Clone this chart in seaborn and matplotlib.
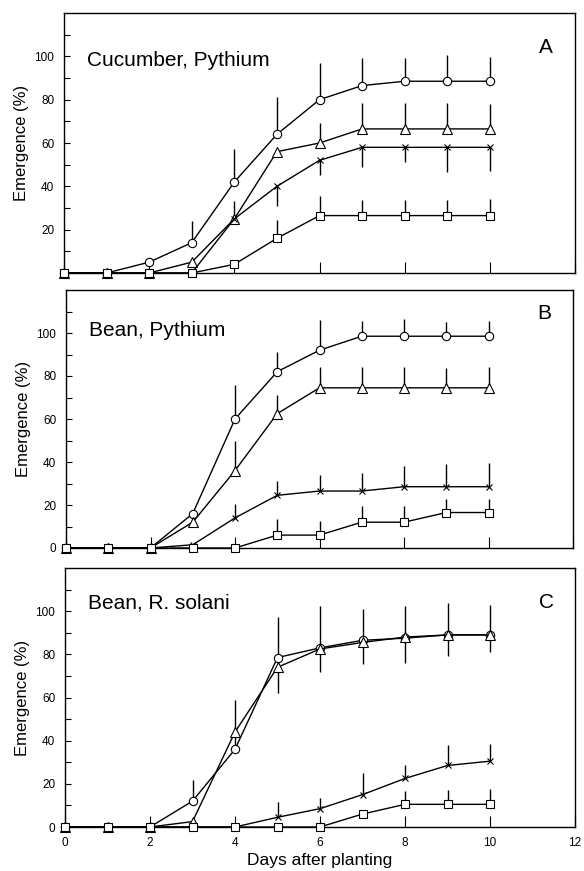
import numpy as np
import pandas as pd
import matplotlib
matplotlib.use("Agg")
import matplotlib.pyplot as plt
import seaborn as sns

days = [0, 1, 2, 3, 4, 5, 6, 7, 8, 9, 10]
series_names = ["circle", "triangle", "cross", "square"]
marker_map = {"circle": "o", "triangle": "^", "cross": "x", "square": "s"}
marker_size = {"circle": 6, "triangle": 6.5, "cross": 4.5, "square": 5.5}

# Panel A: Cucumber, Pythium
A_circle = [0, 0, 5, 14, 42, 64, 80, 86.5, 88.5, 88.5, 88.5]
A_triangle = [0, 0, 0, 5, 25, 56, 60, 66.5, 66.5, 66.5, 66.5]
A_cross = [0, 0, 0, 0, 25, 40, 52, 58, 58, 58, 58]
A_square = [0, 0, 0, 0, 4, 16, 26.5, 26.5, 26.5, 26.5, 26.5]
A_circle_err = [0, 0, 0, 10, 15, 17, 17, 12.5, 10.5, 12, 11]
A_triangle_err = [0, 0, 0, 0, 8, 0, 9, 12, 12, 12, 11.5]
A_cross_err = [0, 0, 0, 0, 0, 9, 7, 9, 7, 11.5, 11]
A_square_err = [0, 0, 0, 0, 0, 8.5, 9, 7, 7, 7, 7.5]
A_err_dir = [1, 1, -1, 1]

# Panel B: Bean, Pythium
B_circle = [0, 0, 0, 16, 60, 82, 92, 98.5, 98.5, 98.5, 98.5]
B_triangle = [0, 0, 0, 12, 36, 62.5, 74.5, 74.5, 74.5, 74.5, 74.5]
B_cross = [0, 0, 0, 1.5, 14, 24.5, 26.5, 26.5, 28.5, 28.5, 28.5]
B_square = [0, 0, 0, 0, 0, 6, 6, 12, 12, 16.5, 16.5]
B_circle_err = [0, 0, 0, 0, 16, 9, 14, 7, 8, 6.5, 7]
B_triangle_err = [0, 0, 0, 0, 14, 8.5, 9.5, 9.5, 9.5, 9, 9.5]
B_cross_err = [0, 0, 0, 0, 6.5, 6.5, 7.5, 8.5, 9.5, 10.5, 11]
B_square_err = [0, 0, 0, 0, 0, 7.5, 6.5, 7.5, 7.5, 6.5, 6.5]
B_err_dir = [1, 1, 1, 1]

# Panel C: Bean, R. solani
C_circle = [0, 0, 0, 12, 36, 78.5, 83, 86.5, 87.5, 89, 89]
C_triangle = [0, 0, 0, 2.5, 44, 74, 82.5, 85.5, 88, 89, 89]
C_cross = [0, 0, 0, 0, 0, 4.5, 8.5, 15, 22.5, 28.5, 30.5]
C_square = [0, 0, 0, 0, 0, 0, 0, 6, 10.5, 10.5, 10.5]
C_circle_err = [0, 0, 0, 10, 23, 19, 19.5, 14.5, 15, 15, 14]
C_triangle_err = [0, 0, 0, 0, 0, 12, 10.5, 10, 12, 10, 8]
C_cross_err = [0, 0, 0, 0, 0, 7, 5, 10, 6, 9.5, 8]
C_square_err = [0, 0, 0, 0, 0, 0, 0, 0, 6, 6.5, 7]
C_err_dir = [1, -1, 1, 1]

panels = [
    ("Cucumber, Pythium", "A", [A_circle, A_triangle, A_cross, A_square],
     [A_circle_err, A_triangle_err, A_cross_err, A_square_err], A_err_dir, 98, 104),
    ("Bean, Pythium", "B", [B_circle, B_triangle, B_cross, B_square],
     [B_circle_err, B_triangle_err, B_cross_err, B_square_err], B_err_dir, 101, 109),
    ("Bean, R. solani", "C", [C_circle, C_triangle, C_cross, C_square],
     [C_circle_err, C_triangle_err, C_cross_err, C_square_err], C_err_dir, 104, 104),
]

sns.set_style("ticks")
plt.rcParams['font.family'] = ['Liberation Sans', 'DejaVu Sans']
plt.rcParams['text.color'] = 'black'
plt.rcParams['axes.labelcolor'] = 'black'
plt.rcParams['xtick.color'] = 'black'
plt.rcParams['ytick.color'] = 'black'
plt.rcParams['axes.edgecolor'] = 'black'

fig = plt.figure(figsize=(5.84, 8.71), dpi=100)
W, H = 584, 871
boxes = [(64, 13, 575, 273), (66, 290, 573, 548), (65, 568, 575, 827)]

for i, (title, letter, vals, errs, dirs, title_y, letter_y) in enumerate(panels):
    l, t, r, b = boxes[i]
    ax = fig.add_axes([l / W, 1 - b / H, (r - l) / W, (b - t) / H])

    # error bars: vertical lines, one-sided
    for v, e, sgn in zip(vals, errs, dirs):
        v = np.array(v, dtype=float)
        e = np.array(e, dtype=float)
        m = e > 0
        ax.vlines(np.array(days)[m], v[m], v[m] + sgn * e[m],
                  color="black", lw=1.0, zorder=2)

    for name, v in zip(series_names, vals):
        df = pd.DataFrame({"day": days, "emergence": v})
        sns.lineplot(data=df, x="day", y="emergence", marker=marker_map[name],
                     color="black", linewidth=1.0,
                     markersize=marker_size[name],
                     markerfacecolor="white", markeredgecolor="black",
                     markeredgewidth=0.8, clip_on=False, ax=ax, zorder=3)

    ax.set_xlim(0, 12)
    ax.set_ylim(0, 120)
    yt = list(range(0, 120, 10))
    ylabels = [str(y) if (y % 20 == 0 and y <= 100) else "" for y in yt]
    if i == 0:
        ylabels[0] = ""
    ax.set_yticks(yt)
    ax.set_yticklabels(ylabels, fontsize=8.5)
    ax.set_xticks(range(0, 13, 2))
    if i == 2:
        ax.set_xticklabels([str(x) for x in range(0, 13, 2)], fontsize=8.5)
        ax.set_xlabel("Days after planting", fontsize=12.5, labelpad=3)
    else:
        ax.set_xticklabels([])
        ax.set_xlabel("")
    ax.set_ylabel("Emergence (%)", fontsize=12, labelpad=4)
    ax.tick_params(axis="y", direction="in", length=4, width=0.8, pad=7)
    ax.tick_params(axis="x", direction="in", length=8, width=0.8, pad=7)
    for s in ax.spines.values():
        s.set_linewidth(1.0)
        s.set_visible(True)

    ax.text(0.55, title_y, title, fontsize=15, va="center", ha="left")
    ax.text(11.15, letter_y, letter, fontsize=15, va="center", ha="left")

fig.savefig("out.png", dpi=100)
